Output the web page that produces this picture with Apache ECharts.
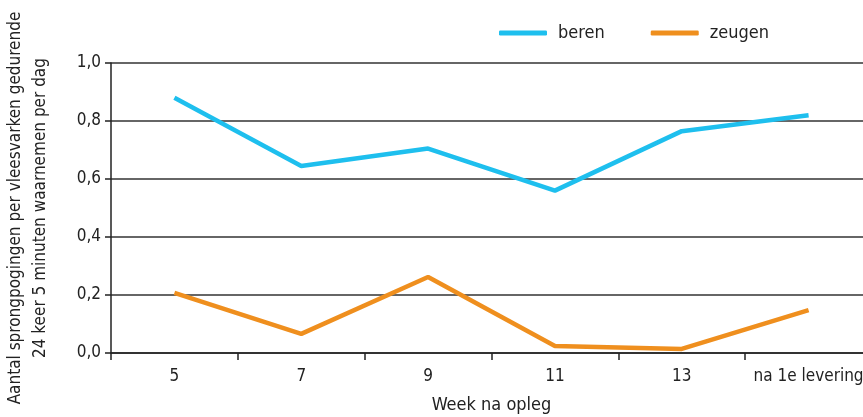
<!DOCTYPE html>
<html><head><meta charset="utf-8">
<script src="https://cdn.jsdelivr.net/npm/echarts@6/dist/echarts.min.js"></script>
<style>html,body{margin:0;padding:0;background:#fff}#c{width:863px;height:417px}</style>
</head><body><div id="c"></div>
<script>
var categories = ['5','7','9','11','13','na 1e levering'];
var beren = [0.88, 0.645, 0.705, 0.56, 0.765, 0.82];
var zeugen = [0.207, 0.066, 0.262, 0.024, 0.014, 0.148];
var yTicks = [0, 0.2, 0.4, 0.6, 0.8, 1.0];
var FONT = '"Liberation Sans Narrow","DejaVu Sans Condensed",sans-serif';
var chart = echarts.init(document.getElementById('c'));
chart.setOption({
  animation:false,
  textStyle:{fontFamily:FONT},
  legend:{top:19,left:494,itemWidth:48,itemHeight:5,itemGap:46,icon:'roundRect',
    textStyle:{fontFamily:FONT,fontSize:18,color:'#222',padding:[0,0,0,6]},
    data:['beren','zeugen']},
  grid:{left:111,right:-9,top:63,bottom:64,containLabel:false,outerBoundsMode:'none'},
  xAxis:{type:'category',data:categories,boundaryGap:true,
    name:'Week na opleg',nameLocation:'middle',nameGap:43,
    nameTextStyle:{fontFamily:FONT,fontSize:18,color:'#222'},
    axisLine:{lineStyle:{color:'#222',width:1.5}},
    axisTick:{show:true,length:7,interval:0,lineStyle:{color:'#222',width:1.5},alignWithLabel:false},
    axisLabel:{fontFamily:FONT,fontSize:17,color:'#222',margin:15,interval:0}},
  yAxis:{type:'value',min:0,max:1,interval:0.2,
    name:'Aantal sprongpogingen per vleesvarken gedurende\n24 keer 5 minuten waarnemen per dag',
    nameLocation:'middle',nameGap:58,nameRotate:90,
    nameTextStyle:{fontFamily:FONT,fontSize:17,color:'#222',lineHeight:25},
    axisLine:{show:true,lineStyle:{color:'#222',width:1.5}},
    axisTick:{show:true,length:6,lineStyle:{color:'#222',width:1.5}},
    splitLine:{lineStyle:{color:'#333',width:1.5}},
    axisLabel:{fontFamily:FONT,fontSize:17,color:'#222',margin:10,
      formatter:function(v){return v.toFixed(1).replace('.',',');}}},
  series:[
    {name:'beren',type:'line',data:beren,symbol:'none',lineStyle:{color:'#1ebfee',width:4.5},itemStyle:{color:'#1ebfee'}},
    {name:'zeugen',type:'line',data:zeugen,symbol:'none',lineStyle:{color:'#ef8f1e',width:4.5},itemStyle:{color:'#ef8f1e'}}
  ]
});
</script></body></html>
